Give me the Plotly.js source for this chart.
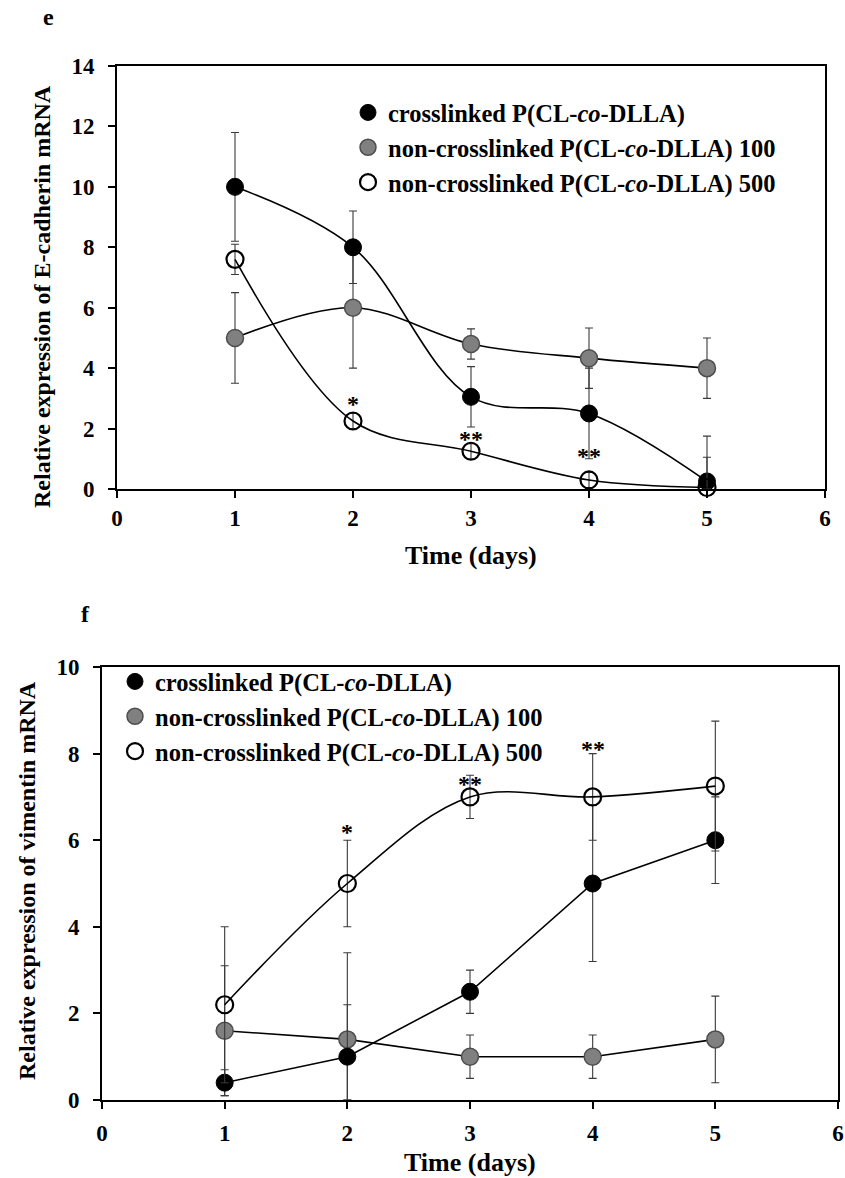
<!DOCTYPE html>
<html>
<head>
<meta charset="utf-8">
<script src="https://cdn.plot.ly/plotly-3.0.1.min.js"></script>
<style>html,body{margin:0;padding:0;background:#fff;}#chart{width:845px;height:1178px;}</style>
</head>
<body>
<div id="chart"></div>
<script>
// ---------- data ----------
const days = [1, 2, 3, 4, 5];
const seriesNames = [
  'crosslinked P(CL-<i>co</i>-DLLA)',
  'non-crosslinked P(CL-<i>co</i>-DLLA) 100',
  'non-crosslinked P(CL-<i>co</i>-DLLA) 500'
];
// panel e: E-cadherin
const ecadCross    = [10.0, 8.0, 3.05, 2.5, 0.25];
const ecadCrossErr = [1.8, 1.2, 1.0, 1.5, 1.5];
const ecad100      = [5.0, 6.0, 4.8, 4.33, 4.0];
const ecad100Err   = [1.5, 2.0, 0.5, 1.0, 1.0];
const ecad500      = [7.6, 2.25, 1.25, 0.3, 0.05];
const ecad500Err   = [0.5, 0.25, 0.25, 0.25, 1.0];
const ecadSigX     = [2, 3, 4];
const ecadSigY     = [2.8, 1.65, 1.1];
const ecadSigText  = ['*', '**', '**'];
// panel f: vimentin
const vimCross     = [0.4, 1.0, 2.5, 5.0, 6.0];
const vimCrossErr  = [0.3, 1.2, 0.5, 1.8, 1.0];
const vim100       = [1.6, 1.4, 1.0, 1.0, 1.4];
const vim100Err    = [1.5, 2.0, 0.5, 0.5, 1.0];
const vim500       = [2.2, 5.0, 7.0, 7.0, 7.25];
const vim500Err    = [1.8, 1.0, 0.5, 1.0, 1.5];
const vimSigX      = [2, 3, 4];
const vimSigY      = [6.2, 7.3, 8.1];
const vimSigText   = ['*', '**', '**'];

const xTicks = [0, 1, 2, 3, 4, 5, 6];
const ecadTicks = [0, 2, 4, 6, 8, 10, 12, 14];
const vimTicks = [0, 2, 4, 6, 8, 10];
const xTitle = 'Time (days)';
const ecadTitle = 'Relative expression of E-cadherin mRNA';
const vimTitle = 'Relative expression of vimentin mRNA';

// ---------- styles ----------
const FONT = 'Liberation Serif, Times New Roman, serif';
const styles = [
  {symbol: 'circle', color: '#000000', line: {color: '#000000', width: 1}},
  {symbol: 'circle', color: '#808080', line: {color: '#4d4d4d', width: 1.5}},
  {symbol: 'circle-open', color: '#000000', line: {color: '#000000', width: 2.2}}
];
const W = 845, H = 1178;
const px = v => v / W, py = v => 1 - v / H;

function trace(y, err, k, xa, ya, shape) {
  const minus = y.map((v, i) => Math.min(err[i], v));
  return {
    x: days, y: y, xaxis: xa, yaxis: ya, type: 'scatter', mode: 'lines+markers',
    showlegend: false, cliponaxis: false,
    line: {color: '#000000', width: 1.6, shape: shape, smoothing: 1},
    marker: {symbol: styles[k].symbol, size: 17, color: styles[k].color, line: styles[k].line},
    error_y: {type: 'data', symmetric: false, array: err, arrayminus: minus,
              color: '#3a3a3a', thickness: 1.1, width: 4}
  };
}
function legendTrace(k, leg) {
  return {
    x: [null], y: [null], type: 'scatter', mode: 'markers', name: seriesNames[k],
    legend: leg, showlegend: true,
    xaxis: leg === 'legend' ? 'x' : 'x2', yaxis: leg === 'legend' ? 'y' : 'y2',
    marker: {symbol: styles[k].symbol, size: 17, color: styles[k].color, line: styles[k].line}
  };
}

const data = [
  trace(ecad100, ecad100Err, 1, 'x', 'y', 'spline'),
  trace(ecadCross, ecadCrossErr, 0, 'x', 'y', 'spline'),
  trace(ecad500, ecad500Err, 2, 'x', 'y', 'spline'),
  trace(vim100, vim100Err, 1, 'x2', 'y2', 'linear'),
  trace(vimCross, vimCrossErr, 0, 'x2', 'y2', 'linear'),
  trace(vim500, vim500Err, 2, 'x2', 'y2', 'spline'),
  legendTrace(0, 'legend'), legendTrace(1, 'legend'), legendTrace(2, 'legend'),
  legendTrace(0, 'legend2'), legendTrace(1, 'legend2'), legendTrace(2, 'legend2')
];

const tickFont = {family: FONT, size: 23, color: '#000', weight: 'bold'};
function xAxis(dom, anchor, standoff) {
  return {domain: dom, anchor: anchor, range: [0, 6], tickvals: xTicks, ticktext: xTicks.map(String),
    showgrid: false, zeroline: false, showline: true, linecolor: '#000', linewidth: 2, mirror: true,
    ticks: 'outside', ticklen: 7, tickwidth: 2, tickcolor: '#000', tickfont: tickFont, ticklabelstandoff: standoff};
}
function yAxis(dom, anchor, max, ticks) {
  return {domain: dom, anchor: anchor, range: [0, max], tickvals: ticks, ticktext: ticks.map(String),
    showgrid: false, zeroline: false, showline: true, linecolor: '#000', linewidth: 2, mirror: true,
    ticks: 'outside', ticklen: 7, tickwidth: 2, tickcolor: '#000', tickfont: tickFont, ticklabelstandoff: 9};
}

const titleFont = {family: FONT, size: 26, color: '#000'};
const yTitleFont = {family: FONT, size: 24, color: '#000'};
const labelFont = {family: FONT, size: 24, color: '#000'};
const sigFont = {family: FONT, size: 24, color: '#000'};
function ann(o) { return Object.assign({showarrow: false, xanchor: 'center', yanchor: 'middle'}, o); }
const annotations = [];
ecadSigX.forEach((x, i) => annotations.push(ann({xref: 'x', yref: 'y', x: x, y: ecadSigY[i],
  text: '<b>' + ecadSigText[i] + '</b>', font: sigFont})));
vimSigX.forEach((x, i) => annotations.push(ann({xref: 'x2', yref: 'y2', x: x, y: vimSigY[i],
  text: '<b>' + vimSigText[i] + '</b>', font: sigFont})));
annotations.push(
  ann({xref: 'paper', yref: 'paper', x: px(48), y: py(17), text: '<b>e</b>', font: labelFont}),
  ann({xref: 'paper', yref: 'paper', x: px(85), y: py(614), text: '<b>f</b>', font: labelFont}),
  ann({xref: 'paper', yref: 'paper', x: px(471), y: py(555), text: '<b>' + xTitle + '</b>', font: titleFont}),
  ann({xref: 'paper', yref: 'paper', x: px(470), y: py(1162), text: '<b>' + xTitle + '</b>', font: titleFont}),
  ann({xref: 'paper', yref: 'paper', x: px(42), y: py(297), text: '<b>' + ecadTitle + '</b>', textangle: -90, font: yTitleFont}),
  ann({xref: 'paper', yref: 'paper', x: px(27), y: py(881), text: '<b>' + vimTitle + '</b>', textangle: -90, font: yTitleFont})
);

const legFont = {family: FONT, size: 24.5, color: '#000', weight: 'bold'};
const layout = {
  width: W, height: H,
  margin: {l: 0, r: 0, t: 0, b: 0},
  paper_bgcolor: '#fff', plot_bgcolor: 'rgba(0,0,0,0)',
  font: {family: FONT, color: '#000'},
  xaxis: xAxis([px(117), px(825)], 'y', 0),
  yaxis: yAxis([py(489), py(66)], 'x', 14, ecadTicks),
  xaxis2: xAxis([px(102), px(838)], 'y2', 4),
  yaxis2: yAxis([py(1100), py(667)], 'x2', 10, vimTicks),
  legend: {x: px(348), y: py(90), xanchor: 'left', yanchor: 'top', bgcolor: 'rgba(0,0,0,0)',
           font: legFont, traceorder: 'normal'},
  legend2: {x: px(115), y: py(659), xanchor: 'left', yanchor: 'top', bgcolor: 'rgba(0,0,0,0)',
           font: legFont, traceorder: 'normal'},
  annotations: annotations,
  showlegend: true
};

Plotly.newPlot('chart', data, layout, {staticPlot: true, displayModeBar: false});
</script>
</body>
</html>
